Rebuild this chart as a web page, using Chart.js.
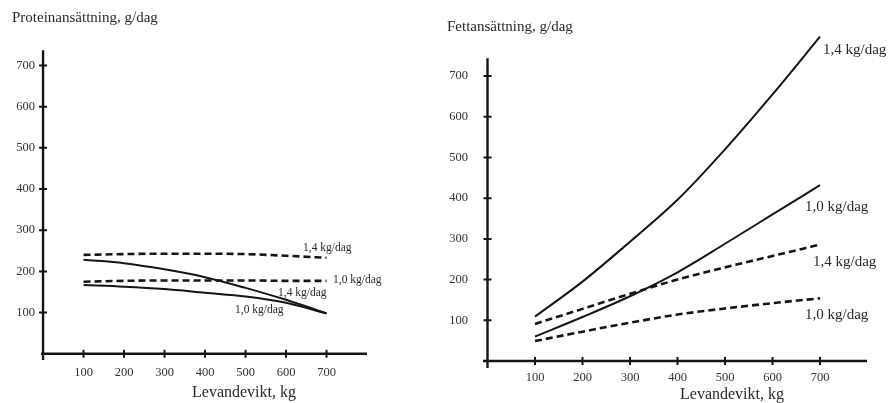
<!DOCTYPE html>
<html><head><meta charset="utf-8">
<script src="https://cdn.jsdelivr.net/npm/chart.js@4/dist/chart.umd.min.js"></script>
<style>
html,body{margin:0;padding:0;background:#fff;width:888px;height:403px;overflow:hidden}
#cl{position:absolute;left:0;top:0}
#cr{position:absolute;left:440px;top:0}
</style></head><body>
<canvas id="cl" width="440" height="403"></canvas>
<canvas id="cr" width="448" height="403"></canvas>
<script>
// ---- data ----
const weights = [100, 200, 300, 400, 500, 600, 700];
const xTickValues = [100, 200, 300, 400, 500, 600, 700];
const yTickValues = [100, 200, 300, 400, 500, 600, 700];
const proteinTitle = 'Proteinansättning, g/dag';
const fatTitle = 'Fettansättning, g/dag';
const xAxisTitle = 'Levandevikt, kg';
const name14 = '1,4 kg/dag';
const name10 = '1,0 kg/dag';

// Protein (left)
const protSolid14 = [228, 220, 205, 186, 160, 131, 98];
const protSolid10 = [167, 163, 157, 148, 139, 124, 98];
const protDash14  = [240, 242, 243, 243, 242, 238, 233];
const protDash10  = [175, 177, 178, 178, 178, 177, 177];

// Fat (right)
const fatSolid14 = [109, 195, 293, 396, 520, 655, 797];
const fatSolid10 = [60, 108, 159, 218, 288, 360, 432];
const fatDash14  = [91, 128, 165, 200, 230, 258, 286];
const fatDash10  = [49, 72, 94, 114, 129, 142, 154];

// ---- helpers ----
const SERIF = "'Liberation Serif', 'DejaVu Serif', serif";
const INK = '#151515';
const TXT = '#2a2a2a';
const pts = vals => weights.map((w, i) => ({x: w, y: vals[i]}));

function ds(label, vals, dashed, width) {
  return {
    label, data: pts(vals), borderColor: INK, borderWidth: width,
    borderDash: dashed ? [7, 4] : [], pointRadius: 0, fill: false,
    cubicInterpolationMode: 'monotone', clip: false
  };
}

const sketchPlugin = {
  id: 'sketch',
  afterDatasetsDraw(chart, args, o) {
    const ctx = chart.ctx, xs = chart.scales.x, ys = chart.scales.y;
    const x0 = xs.getPixelForValue(0), y0 = ys.getPixelForValue(0);
    ctx.save();
    ctx.strokeStyle = INK; ctx.lineWidth = 2.4; ctx.setLineDash([]);
    ctx.beginPath();
    ctx.moveTo(xs.getPixelForValue(o.xFrom), y0); ctx.lineTo(xs.getPixelForValue(o.xTo), y0);
    ctx.moveTo(x0, ys.getPixelForValue(o.yFrom)); ctx.lineTo(x0, ys.getPixelForValue(o.yTo));
    ctx.stroke();
    ctx.lineWidth = 2;
    ctx.beginPath();
    xs.ticks.forEach(t => { const p = xs.getPixelForValue(t.value); ctx.moveTo(p, y0 - 4); ctx.lineTo(p, y0 + 4); });
    ys.ticks.forEach(t => { const p = ys.getPixelForValue(t.value); ctx.moveTo(x0 - 4, p); ctx.lineTo(x0 + 4, p); });
    ctx.stroke();
    ctx.fillStyle = TXT;
    ctx.textBaseline = 'middle';
    ctx.textAlign = 'center';
    ctx.font = o.titleSize + 'px ' + SERIF;
    ctx.fillText(xAxisTitle, o.titleX, o.titleY);
    ctx.textAlign = 'left';
    ctx.font = o.labelSize + 'px ' + SERIF;
    o.labels.forEach(l => ctx.fillText(l.text, l.x, l.y));
    ctx.restore();
  }
};

function makeChart(id, cfg) {
  return new Chart(document.getElementById(id), {
    type: 'line',
    data: {datasets: cfg.datasets},
    plugins: [sketchPlugin],
    options: {
      responsive: false, animation: false, devicePixelRatio: 1,
      layout: {padding: cfg.padding},
      plugins: {
        legend: {display: false}, tooltip: {enabled: false},
        title: {
          display: true, text: cfg.title, align: 'start', color: TXT,
          font: {family: SERIF, size: 15, weight: 'normal'},
          padding: cfg.titlePad
        },
        sketch: cfg.sketch
      },
      scales: {
        x: {
          type: 'linear', min: -10, max: 800,
          grid: {display: false, drawTicks: false}, border: {display: false},
          afterBuildTicks: s => { s.ticks = xTickValues.map(v => ({value: v})); },
          afterFit: s => { s.height = cfg.xHeight; },
          ticks: {color: '#333', font: {family: SERIF, size: 12.5}, padding: cfg.xPad, maxRotation: 0, autoSkip: false}
        },
        y: {
          type: 'linear', min: -20, max: cfg.yMax,
          grid: {display: false, drawTicks: false}, border: {display: false},
          afterBuildTicks: s => { s.ticks = yTickValues.map(v => ({value: v})); },
          afterFit: s => { s.width = cfg.yWidth; },
          ticks: {color: '#333', font: {family: SERIF, size: 12.5}, padding: cfg.yPad}
        }
      }
    }
  });
}

makeChart('cl', {
  title: proteinTitle,
  datasets: [
    ds(name14, protDash14, true, 2.6),
    ds(name10, protDash10, true, 2.6),
    ds(name14, protSolid14, false, 2),
    ds(name10, protSolid10, false, 2)
  ],
  padding: {left: 12, right: 73, top: 0, bottom: 0},
  titlePad: {top: 9, bottom: 22},
  yMax: 740, xHeight: 41, yWidth: 27, xPad: 3, yPad: 4,
  sketch: {
    xFrom: -5, xTo: 800, yFrom: -15, yTo: 737,
    titleX: 244, titleY: 393, titleSize: 16, labelSize: 11.5,
    labels: [
      {text: name14, x: 303, y: 248},
      {text: name10, x: 333, y: 280},
      {text: name14, x: 278, y: 293},
      {text: name10, x: 235, y: 310}
    ]
  }
});

makeChart('cr', {
  title: fatTitle,
  datasets: [
    ds(name14, fatSolid14, false, 2),
    ds(name10, fatSolid10, false, 2),
    ds(name14, fatDash14, true, 2.6),
    ds(name10, fatDash10, true, 2.6)
  ],
  padding: {left: 7, right: 20.5, top: 0, bottom: 0},
  titlePad: {top: 18, bottom: 21.8},
  yMax: 745, xHeight: 33.9, yWidth: 35.75, xPad: 1, yPad: 14.75,
  sketch: {
    xFrom: -9.5, xTo: 799, yFrom: -17, yTo: 744,
    titleX: 292, titleY: 395, titleSize: 16, labelSize: 15,
    labels: [
      {text: name14, x: 383, y: 50},
      {text: name10, x: 365, y: 207},
      {text: name14, x: 373, y: 262},
      {text: name10, x: 365, y: 315}
    ]
  }
});
</script>
</body></html>
